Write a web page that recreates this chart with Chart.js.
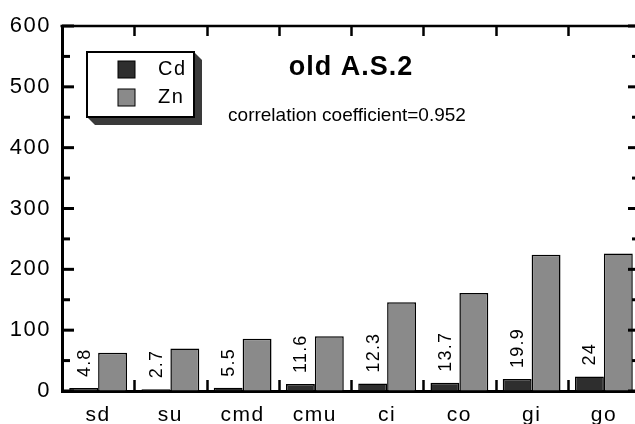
<!DOCTYPE html>
<html><head><meta charset="utf-8">
<script src="https://cdn.jsdelivr.net/npm/chart.js@4.4.1/dist/chart.umd.min.js"></script>
<style>
html,body{margin:0;padding:0;background:#fff;overflow:hidden}
#wrap{width:635px;height:424px;overflow:hidden;position:relative;background:#fff}
#c{display:block}
</style></head><body>
<div id="wrap"><canvas id="c" width="645" height="424" style="width:645px;height:424px"></canvas></div>
<script>
const categories = ['sd','su','cmd','cmu','ci','co','gi','go'];
const cdValues = [4.8, 2.7, 5.5, 11.6, 12.3, 13.7, 19.9, 24];
const znValues = [63, 70, 86, 90, 146, 161, 224, 226];
const cdLabels = ['4.8','2.7','5.5','11.6','12.3','13.7','19.9','24'];
const yMajorTicks = [0, 100, 200, 300, 400, 500, 600];
const seriesNames = ['Cd', 'Zn'];
const titleText = 'old A.S.2';
const subtitleText = 'correlation coefficient=0.952';

const FONT = "'Liberation Sans', Arial, Helvetica, sans-serif";

function withSpacing(fn, sp) {
  return function(...args) {
    const ctx = this.ctx;
    ctx.save();
    ctx.letterSpacing = sp;
    fn.apply(this, args);
    ctx.restore();
  };
}

const patchPlugin = {
  id: 'patch',
  afterUpdate(chart) {
    const x = chart.scales.x, y = chart.scales.y;
    if (!x._patched) { x.drawLabels = withSpacing(x.constructor.prototype.drawLabels, '1.5px'); x._patched = true; }
    if (!y._patched) { y.drawLabels = withSpacing(y.constructor.prototype.drawLabels, '1.5px'); y._patched = true; }
  }
};

const framePlugin = {
  id: 'frame',
  afterDraw(chart) {
    const ctx = chart.ctx, a = chart.chartArea, x = chart.scales.x, y = chart.scales.y;
    ctx.save();
    ctx.strokeStyle = '#000';
    ctx.lineCap = 'butt';
    ctx.lineWidth = 2.5;
    ctx.beginPath(); ctx.moveTo(a.left - 1.5, a.top); ctx.lineTo(a.right, a.top); ctx.stroke();
    ctx.lineWidth = 3;
    ctx.beginPath(); ctx.moveTo(a.right, a.top); ctx.lineTo(a.right, a.bottom); ctx.stroke();
    ctx.lineWidth = 3;
    y.ticks.forEach(t => {
      const py = y.getPixelForValue(t.value);
      const len = yMajorTicks.includes(t.value) ? 12 : 8;
      ctx.beginPath(); ctx.moveTo(a.left, py); ctx.lineTo(a.left + len, py); ctx.stroke();
      ctx.beginPath(); ctx.moveTo(a.right, py); ctx.lineTo(a.right - len, py); ctx.stroke();
    });
    ctx.lineWidth = 2.5;
    for (let i = 1; i < categories.length; i++) {
      const bx = Math.round((x.getPixelForValue(i - 1) + x.getPixelForValue(i)) / 2) + 0.5;
      ctx.beginPath(); ctx.moveTo(bx, a.top); ctx.lineTo(bx, a.top + 10); ctx.stroke();
      ctx.beginPath(); ctx.moveTo(bx, a.bottom); ctx.lineTo(bx, a.bottom - 11); ctx.stroke();
    }
    ctx.restore();
  }
};

const textPlugin = {
  id: 'texts',
  afterDatasetsDraw(chart) {
    const ctx = chart.ctx;
    const meta = chart.getDatasetMeta(0);
    ctx.save();
    ctx.fillStyle = '#000';
    ctx.font = '18px ' + FONT;
    ctx.letterSpacing = '1.2px';
    ctx.textAlign = 'left';
    ctx.textBaseline = 'middle';
    meta.data.forEach((bar, i) => {
      ctx.save();
      ctx.translate(bar.x + 1, bar.y - 11);
      ctx.rotate(-Math.PI / 2);
      ctx.fillText(cdLabels[i], 0, 0);
      ctx.restore();
    });
    ctx.restore();

    ctx.save();
    ctx.fillStyle = '#000';
    ctx.textAlign = 'center';
    ctx.textBaseline = 'alphabetic';
    ctx.font = 'bold 27px ' + FONT;
    ctx.letterSpacing = '1px';
    ctx.fillText(titleText, 351, 75);
    ctx.font = '19px ' + FONT;
    ctx.letterSpacing = '0px';
    ctx.fillText(subtitleText, 347, 121);
    ctx.restore();

    const bx = 87, by = 52, bw = 107, bh = 65, d = 8;
    ctx.save();
    ctx.fillStyle = '#3a3a3a';
    ctx.beginPath();
    ctx.moveTo(bx + bw, by);
    ctx.lineTo(bx + bw + d, by + d);
    ctx.lineTo(bx + bw + d, by + bh + d);
    ctx.lineTo(bx + d, by + bh + d);
    ctx.lineTo(bx, by + bh);
    ctx.closePath();
    ctx.fill();
    ctx.fillStyle = '#fff';
    ctx.fillRect(bx, by, bw, bh);
    ctx.strokeStyle = '#000';
    ctx.lineWidth = 2;
    ctx.strokeRect(bx, by, bw, bh);
    chart.data.datasets.forEach((ds, i) => {
      const sy = 61 + i * 28;
      ctx.fillStyle = ds.backgroundColor;
      ctx.fillRect(118, sy, 17, 17);
      ctx.strokeStyle = '#000';
      ctx.lineWidth = 1;
      ctx.strokeRect(118, sy, 17, 17);
      ctx.fillStyle = '#000';
      ctx.font = '20px ' + FONT;
      ctx.letterSpacing = '1.5px';
      ctx.textAlign = 'left';
      ctx.textBaseline = 'alphabetic';
      ctx.fillText(ds.label, 158, 75 + i * 28);
    });
    ctx.restore();
  }
};

new Chart(document.getElementById('c'), {
  type: 'bar',
  data: {
    labels: categories,
    datasets: [
      { label: seriesNames[0], data: cdValues, backgroundColor: '#2e2e2e', borderColor: '#000', borderWidth: 1.5,
        categoryPercentage: 0.8, barPercentage: 1.0 },
      { label: seriesNames[1], data: znValues, backgroundColor: '#8a8a8a', borderColor: '#000', borderWidth: 1.5,
        categoryPercentage: 0.8, barPercentage: 1.0 }
    ]
  },
  options: {
    responsive: false,
    animation: false,
    devicePixelRatio: 1,
    layout: { padding: { top: 26, right: 5, left: 0, bottom: 0 } },
    plugins: { legend: { display: false }, title: { display: false }, tooltip: { enabled: false } },
    scales: {
      x: {
        grid: { display: true, drawOnChartArea: false, drawTicks: false },
        border: { display: true, width: 3, color: '#000' },
        ticks: { color: '#000', font: { family: FONT, size: 21 }, padding: 12, maxRotation: 0, autoSkip: false },
        afterFit(s) { s.height = 33; }
      },
      y: {
        min: 0, max: 600,
        grid: { display: true, drawOnChartArea: false, drawTicks: false },
        border: { display: true, width: 3, color: '#000' },
        ticks: { stepSize: 50, color: '#000', font: { family: FONT, size: 22 }, padding: 11,
          callback: v => yMajorTicks.includes(v) ? String(v) : '' },
        afterFit(s) { s.width = 62; }
      }
    }
  },
  plugins: [patchPlugin, framePlugin, textPlugin]
});
</script>
</body></html>
